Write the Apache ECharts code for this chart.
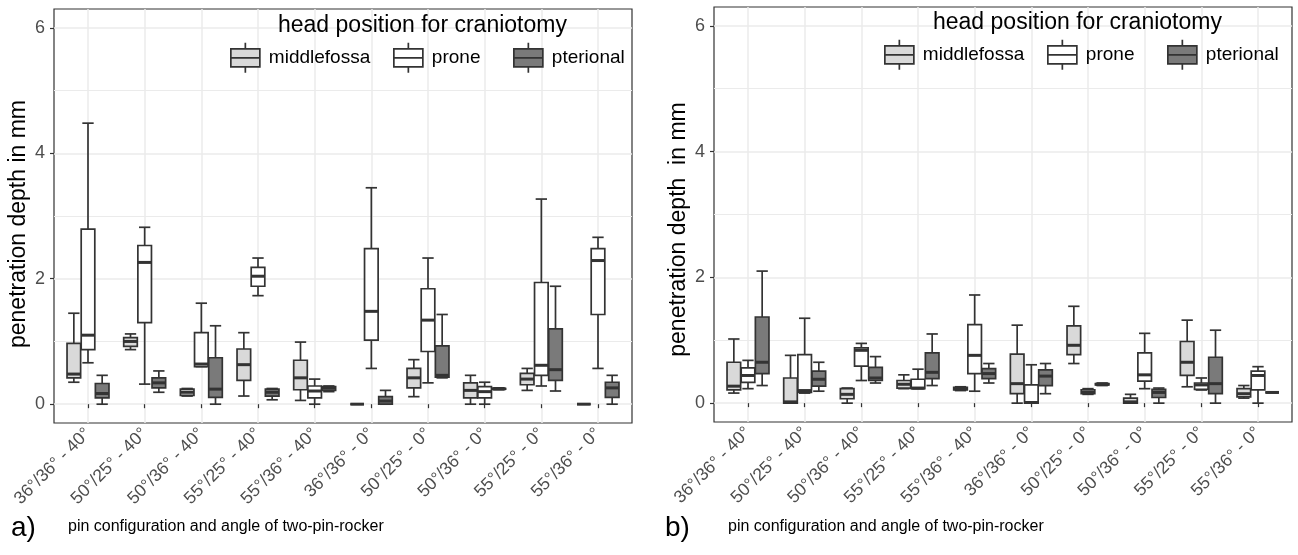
<!DOCTYPE html>
<html>
<head>
<meta charset="utf-8">
<script src="https://cdn.jsdelivr.net/npm/echarts@6/dist/echarts.min.js"></script>
<style>
html, body { margin: 0; padding: 0; background: #fff; }
#boxChart { width: 1298px; height: 555px; }
</style>
</head>
<body>
<div id="boxChart"></div>
<script>
// x categories: pin configuration and rocker angle
const categories = [
  "36°/36° - 40°", "50°/25° - 40°", "50°/36° - 40°", "55°/25° - 40°", "55°/36° - 40°",
  "36°/36° - 0°", "50°/25° - 0°", "50°/36° - 0°", "55°/25° - 0°", "55°/36° - 0°"
];
const groups = ["middlefossa", "prone", "pterional"];
const yTicks = [0, 2, 4, 6];
const yMinorTicks = [1, 3, 5];

// panel a) each entry: [min, Q1, median, Q3, max]
const aMiddlefossa = [
  [0.35, 0.42, 0.48, 0.97, 1.45],
  [0.87, 0.92, 1.0, 1.06, 1.12],
  [0.13, 0.14, 0.19, 0.24, 0.25],
  [0.13, 0.38, 0.63, 0.88, 1.14],
  [0.06, 0.23, 0.42, 0.7, 0.99],
  [0, 0, 0, 0, 0],
  [0.12, 0.26, 0.42, 0.57, 0.71],
  [0, 0.1, 0.22, 0.34, 0.46],
  [0.22, 0.31, 0.4, 0.49, 0.57],
  [0, 0, 0, 0, 0]
];
const aProne = [
  [0.66, 0.87, 1.1, 2.79, 4.48],
  [0.32, 1.3, 2.26, 2.53, 2.82],
  [0.6, 0.6, 0.64, 1.14, 1.61],
  [1.73, 1.88, 2.04, 2.18, 2.33],
  [0, 0.1, 0.21, 0.29, 0.4],
  [0.57, 1.02, 1.48, 2.48, 3.45],
  [0.34, 0.84, 1.34, 1.84, 2.33],
  [0, 0.1, 0.2, 0.28, 0.35],
  [0.29, 0.46, 0.62, 1.94, 3.27],
  [0.57, 1.43, 2.29, 2.48, 2.66]
];
const aPterional = [
  [0, 0.1, 0.17, 0.33, 0.46],
  [0.19, 0.26, 0.34, 0.42, 0.53],
  [0, 0.11, 0.24, 0.74, 1.25],
  [0.07, 0.13, 0.19, 0.24, 0.25],
  [0.2, 0.22, 0.26, 0.28, 0.29],
  [0, 0, 0.05, 0.12, 0.22],
  [0.42, 0.43, 0.46, 0.93, 1.43],
  [0.23, 0.24, 0.245, 0.25, 0.26],
  [0.21, 0.38, 0.55, 1.2, 1.88],
  [0, 0.11, 0.26, 0.35, 0.46]
];

// panel b)
const bMiddlefossa = [
  [0.16, 0.21, 0.27, 0.65, 1.02],
  [0, 0, 0.02, 0.4, 0.76],
  [0, 0.07, 0.14, 0.23, 0.24],
  [0.23, 0.24, 0.3, 0.36, 0.45],
  [0.2, 0.21, 0.23, 0.25, 0.26],
  [0, 0.15, 0.31, 0.78, 1.24],
  [0.63, 0.77, 0.92, 1.23, 1.54],
  [0, 0, 0.02, 0.08, 0.14],
  [0.26, 0.44, 0.65, 0.98, 1.32],
  [0.08, 0.1, 0.15, 0.23, 0.28]
];
const bProne = [
  [0.23, 0.33, 0.44, 0.56, 0.68],
  [0.16, 0.17, 0.2, 0.77, 1.35],
  [0.36, 0.59, 0.84, 0.88, 0.95],
  [0.23, 0.23, 0.24, 0.38, 0.54],
  [0.19, 0.47, 0.76, 1.25, 1.72],
  [0, 0, 0.01, 0.29, 0.61],
  [0.14, 0.15, 0.17, 0.21, 0.23],
  [0.23, 0.35, 0.45, 0.8, 1.11],
  [0.21, 0.22, 0.29, 0.32, 0.4],
  [0, 0.21, 0.44, 0.51, 0.58]
];
const bPterional = [
  [0.28, 0.47, 0.65, 1.37, 2.1],
  [0.19, 0.27, 0.38, 0.51, 0.65],
  [0.32, 0.36, 0.4, 0.57, 0.74],
  [0.28, 0.39, 0.49, 0.8, 1.1],
  [0.32, 0.39, 0.47, 0.55, 0.63],
  [0.15, 0.28, 0.43, 0.53, 0.63],
  [0.28, 0.29, 0.3, 0.31, 0.32],
  [0, 0.09, 0.17, 0.22, 0.24],
  [0, 0.15, 0.31, 0.73, 1.16],
  [0.17, 0.17, 0.17, 0.17, 0.17]
];

const panels = [
  { data: [aMiddlefossa, aProne, aPterional], yName: "penetration depth in mm", tag: "a)" },
  { data: [bMiddlefossa, bProne, bPterional], yName: "penetration depth  in mm", tag: "b)" }
];

const fontFamily = "Liberation Sans, Arial, Helvetica, sans-serif";
const fills = ["#d9d9d9", "#ffffff", "#7a7a7a"];
const lineColor = "#333333";
const gridColor = "#ebebeb";
const tickTextColor = "#4d4d4d";
// dodge offsets, in category units
const dodge = [-0.25, 0, 0.25];
const boxW = 0.24;
const capW = 0.2;
const keyIcon = "path://M14.5,0L14.5,6M0,6L29,6L29,24L0,24ZM0,15L29,15M14.5,24L14.5,30";

function makeRender(g) {
  return function (params, api) {
    const xc = api.value(0) + dodge[g];
    const pMin = api.coord([xc, api.value(1)]);
    const pQ1 = api.coord([xc, api.value(2)]);
    const pMed = api.coord([xc, api.value(3)]);
    const pQ3 = api.coord([xc, api.value(4)]);
    const pMax = api.coord([xc, api.value(5)]);
    const bl = api.coord([xc - boxW / 2, 0])[0];
    const br = api.coord([xc + boxW / 2, 0])[0];
    const cl = api.coord([xc - capW / 2, 0])[0];
    const cr = api.coord([xc + capW / 2, 0])[0];
    const ls = { stroke: lineColor, lineWidth: 1.7 };
    return {
      type: "group",
      children: [
        { type: "line", shape: { x1: pMax[0], y1: pMax[1], x2: pQ3[0], y2: pQ3[1] }, style: ls },
        { type: "line", shape: { x1: pQ1[0], y1: pQ1[1], x2: pMin[0], y2: pMin[1] }, style: ls },
        { type: "line", shape: { x1: cl, y1: pMax[1], x2: cr, y2: pMax[1] }, style: ls },
        { type: "line", shape: { x1: cl, y1: pMin[1], x2: cr, y2: pMin[1] }, style: ls },
        {
          type: "rect",
          shape: { x: bl, y: pQ3[1], width: br - bl, height: pQ1[1] - pQ3[1] },
          style: { fill: fills[g], stroke: lineColor, lineWidth: 1.7 }
        },
        { type: "line", shape: { x1: bl, y1: pMed[1], x2: br, y2: pMed[1] }, style: { stroke: lineColor, lineWidth: 3 } }
      ]
    };
  };
}

const gridBox = [
  { left: 54, top: 9, width: 578, height: 414 },
  { left: 714, top: 7, width: 578, height: 415 }
];
const legendTitlePos = [[278, 14], [933, 11]];
const legendKeyLeft = [[230, 393, 513], [884, 1047, 1167]];
const legendKeyTop = [42, 39];
const yNameShift = [16, 30];
const tagPos = [[11, 514], [665, 514]];
const captionLeft = [68, 728];

let myChart = echarts.init(document.getElementById("boxChart"));

let grid = [], xAxis = [], yAxis = [], series = [], legend = [], title = [];

panels.forEach(function (panel, p) {
  grid.push(Object.assign({
    show: true,
    backgroundColor: "#ffffff",
    borderColor: lineColor,
    borderWidth: 1.2
  }, gridBox[p]));

  xAxis.push({
    type: "value",
    gridIndex: p,
    min: 0.4,
    max: 10.6,
    axisLine: { show: false },
    axisTick: { show: true, length: 4, lineStyle: { color: lineColor, width: 1.2 }, customValues: categories.map((c, i) => i + 1) },
    axisLabel: {
      customValues: categories.map((c, i) => i + 1),
      formatter: (v) => categories[Math.round(v) - 1] || "",
      rotate: 45,
      margin: 8,
      color: tickTextColor,
      fontSize: 17.5,
      fontFamily: fontFamily
    },
    splitLine: { show: true, lineStyle: { color: gridColor, width: 1.5 } }
  });

  // major y axis
  yAxis.push({
    type: "value",
    gridIndex: p,
    min: -0.3,
    max: 6.3,
    name: panel.yName,
    nameLocation: "middle",
    nameGap: 24,
    nameTextStyle: { fontSize: 23, color: "#000", fontFamily: fontFamily, padding: [0, yNameShift[p], 0, 0] },
    axisLine: { show: false },
    axisTick: { show: true, length: 4, lineStyle: { color: lineColor, width: 1.2 }, customValues: yTicks },
    axisLabel: { customValues: yTicks, color: tickTextColor, fontSize: 18, margin: 9, fontFamily: fontFamily },
    splitLine: { show: true, lineStyle: { color: gridColor, width: 1.5 } }
  });
  // minor grid lines
  yAxis.push({
    type: "value",
    gridIndex: p,
    min: -0.3,
    max: 6.3,
    axisLine: { show: false },
    axisTick: { show: false, customValues: yMinorTicks },
    axisLabel: { show: false },
    splitLine: { show: true, lineStyle: { color: gridColor, width: 1 } }
  });

  groups.forEach(function (name, g) {
    series.push({
      type: "custom",
      name: name,
      xAxisIndex: p,
      yAxisIndex: p * 2,
      itemStyle: { color: fills[g] },
      encode: { x: 0, y: [1, 2, 3, 4, 5] },
      renderItem: makeRender(g),
      data: panel.data[g].map((d, i) => [i + 1].concat(d))
    });
    legend.push({
      data: [{ name: name, icon: keyIcon }],
      left: legendKeyLeft[p][g],
      top: legendKeyTop[p],
      padding: 0,
      itemWidth: 29,
      itemHeight: 30,
      itemStyle: { borderColor: lineColor, borderWidth: 1.7 },
      textStyle: { fontSize: 19, color: "#000", fontFamily: fontFamily, padding: [0, 0, 0, 4] },
      selectedMode: false
    });
  });

  title.push({
    text: "head position for craniotomy",
    left: legendTitlePos[p][0],
    top: legendTitlePos[p][1],
    padding: 0,
    textStyle: { fontSize: 23, fontWeight: "normal", color: "#000", fontFamily: fontFamily }
  });
  title.push({
    text: panel.tag,
    left: tagPos[p][0],
    top: tagPos[p][1],
    padding: 0,
    textStyle: { fontSize: 28, fontWeight: "normal", color: "#000", fontFamily: fontFamily }
  });
  title.push({
    text: "pin configuration and angle of two-pin-rocker",
    left: captionLeft[p],
    top: tagPos[p][1] + 5,
    padding: 0,
    textStyle: { fontSize: 16, fontWeight: "normal", color: "#000", fontFamily: fontFamily }
  });
});

let options = {
  animation: false,
  backgroundColor: "#ffffff",
  textStyle: { fontFamily: fontFamily },
  title: title,
  legend: legend,
  grid: grid,
  xAxis: xAxis,
  yAxis: yAxis,
  series: series
};
myChart.setOption(options);
</script>
</body>
</html>
